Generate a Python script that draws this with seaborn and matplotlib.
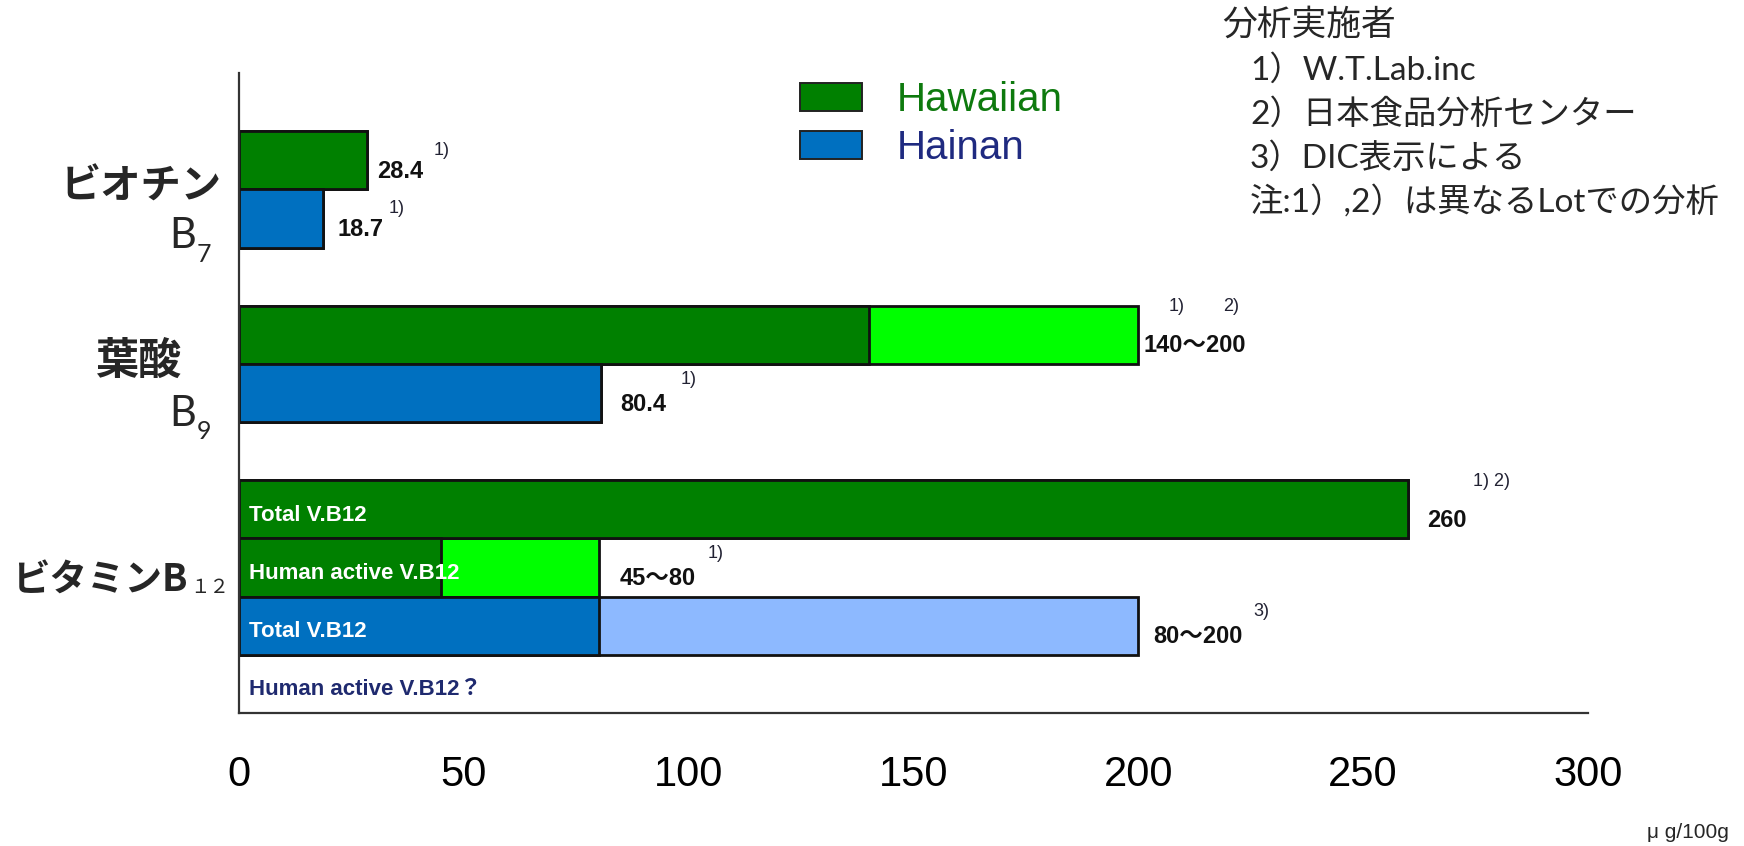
import numpy as np
import pandas as pd
import matplotlib
matplotlib.use("Agg")
import matplotlib.pyplot as plt
from matplotlib.patches import Rectangle
import seaborn as sns

# ---------------------------------------------------------------- data
row_keys = ["biotin_hawaiian", "biotin_hainan",
            "folate_hawaiian", "folate_hainan",
            "b12_total_hawaiian", "b12_active_hawaiian", "b12_total_hainan"]
origin = ["Hawaiian", "Hainan", "Hawaiian", "Hainan",
          "Hawaiian", "Hawaiian", "Hainan"]
low_values = [28.4, 18.7, 140, 80.4, 260, 45, 80]
high_values = [28.4, 18.7, 200, 80.4, 260, 80, 200]
value_labels = ["28.4", "18.7", "140～200", "80.4", "260", "45～80", "80～200"]
source_notes = [["1)"], ["1)"], ["1)", "2)"], ["1)"], ["1) 2)"], ["1)"], ["3)"]]

inner_rows = ["b12_total_hawaiian", "b12_active_hawaiian",
              "b12_total_hainan", "b12_active_hainan"]
inner_labels = ["Total V.B12", "Human active V.B12",
                "Total V.B12", "Human active V.B12？"]

vitamin_names = ["ビオチン", "葉酸", "ビタミン"]
vitamin_codes = ["7", "9", "１２"]
series = ["Hawaiian", "Hainan"]

x_ticks = [0, 50, 100, 150, 200, 250, 300]
unit_label = "μ g/100g"

analysts_title = "分析実施者"
analysts = ["1）W.T.Lab.inc", "2）日本食品分析センター",
            "3）DIC表示による", "注:1）,2）は異なるLotでの分析"]

# ------------------------------------------------------------- styling
dark = {"Hawaiian": "#008000", "Hainan": "#0070C0"}
light = {"Hawaiian": "#00FF00", "Hainan": "#8DB9FF"}
legend_text = {"Hawaiian": "#0E7A0E", "Hainan": "#1F2A80"}
EDGE = "#111111"

# row slots from top to bottom, with blank spacer rows between groups
slot_order = ["gap_a", row_keys[0], row_keys[1],
              "gap_b", row_keys[2], row_keys[3],
              "gap_c", row_keys[4], row_keys[5], row_keys[6],
              "b12_active_hainan"]

W, H = 1744, 846
sns.set_style("white")
plt.rcParams["font.family"] = ["Liberation Sans", "Noto Sans CJK JP"]

fig = plt.figure(figsize=(W / 100, H / 100), dpi=100)
fig.subplots_adjust(left=239 / W, right=1588 / W, top=1 - 73 / H, bottom=1 - 713 / H)
ax = fig.add_subplot(111)


def fx(px):
    return px / W


def fy(py):
    return 1 - py / H


df = pd.DataFrame({"row": row_keys, "origin": origin,
                   "low": low_values, "high": high_values})

# full range first (light shade), then the lower bound (dark shade) on top
sns.barplot(data=df, y="row", x="high", hue="row", order=slot_order,
            hue_order=row_keys,
            palette={r: light[o] for r, o in zip(row_keys, origin)},
            orient="h", width=1.0, edgecolor=EDGE, linewidth=2.0,
            saturation=1, errorbar=None, legend=False, ax=ax)
sns.barplot(data=df, y="row", x="low", hue="row", order=slot_order,
            hue_order=row_keys,
            palette={r: dark[o] for r, o in zip(row_keys, origin)},
            orient="h", width=1.0, edgecolor=EDGE, linewidth=2.0,
            saturation=1, errorbar=None, legend=False, ax=ax)

ax.set_ylim(len(slot_order) - 0.5, -0.5)
ax.set_xlim(0, 300)
ax.set_xlabel("")
ax.set_ylabel("")
ax.set_xticks(x_ticks)
ax.set_xticklabels([str(t) for t in x_ticks], family="Liberation Sans",
                   fontsize=30, color="black")
ax.tick_params(axis="x", direction="in", length=10.5, width=1.2,
               color="#222222", pad=30)
ax.tick_params(axis="y", left=False, labelleft=False)
for side in ("top", "right"):
    ax.spines[side].set_visible(False)
for side in ("left", "bottom"):
    ax.spines[side].set_linewidth(1.6)
    ax.spines[side].set_color("#333333")

# value labels and source notes at the end of each bar
label_dx = [10, 14, 5, 20, 19, 21, 15]
note_pos = [[(67, 10)], [(66, 10)], [(30, 28), (85, 28)], [(80, 14)],
            [(65, 28)], [(109, 14)], [(115, 14)]]
for row, hi, text, dx, notes, npos in zip(row_keys, high_values, value_labels,
                                          label_dx, source_notes, note_pos):
    y = slot_order.index(row)
    ax.annotate(text, xy=(hi, y), xytext=(dx, -11), textcoords="offset pixels",
                ha="left", va="center", fontsize=17, fontweight="bold",
                color="#111111")
    for note, (nx, ny) in zip(notes, npos):
        ax.annotate(note, xy=(hi, y), xytext=(nx, ny),
                    textcoords="offset pixels", ha="left", va="center",
                    fontsize=13, color="#222233")

# labels written inside the vitamin B12 bars
for row, text in zip(inner_rows, inner_labels):
    y = slot_order.index(row)
    col = "#1F2A6F" if row == "b12_active_hainan" else "white"
    ax.annotate(text, xy=(0, y), xytext=(10, -6), textcoords="offset pixels",
                ha="left", va="center", fontsize=16, fontweight="bold",
                color=col)

# vitamin names on the left
jp = ["Noto Sans CJK JP", "DejaVu Sans"]
fig.text(fx(222), fy(187), vitamin_names[0], ha="right", va="center",
         fontsize=29, family=jp, fontweight="bold")
fig.text(fx(196), fy(236), "B", ha="right", va="center", fontsize=30, family="Lato")
fig.text(fx(197), fy(254), vitamin_codes[0], ha="left", va="center",
         fontsize=18, family="Lato")
fig.text(fx(181), fy(361), vitamin_names[1], ha="right", va="center",
         fontsize=31, family=jp, fontweight="bold")
fig.text(fx(196), fy(414), "B", ha="right", va="center", fontsize=30, family="Lato")
fig.text(fx(197), fy(431), vitamin_codes[1], ha="left", va="center",
         fontsize=18, family="Lato")
fig.text(fx(188), fy(580), vitamin_names[2] + "B", ha="right", va="center",
         fontsize=27, family=jp, fontweight="bold")
fig.text(fx(190), fy(593), vitamin_codes[2], ha="left", va="baseline",
         fontsize=14, family=jp)

# legend
for i, name in enumerate(series):
    top = 83 + 48 * i
    fig.add_artist(Rectangle((fx(800), fy(top + 28)), 62 / W, 28 / H,
                             transform=fig.transFigure, facecolor=dark[name],
                             edgecolor="#222222", linewidth=1.4))
    fig.text(fx(897), fy(top + 17), name, ha="left", va="center",
             fontsize=29, color=legend_text[name])

# analysts note block
note_font = ["Lato", "Noto Sans CJK JP"]
fig.text(fx(1222), fy(24), analysts_title, ha="left", va="center",
         fontsize=25, family=note_font)
for i, line in enumerate(analysts):
    fig.text(fx(1250), fy(70 + 44 * i), line, ha="left", va="center",
             fontsize=24, family=note_font)

fig.text(fx(1729), fy(832), unit_label, ha="right", va="center",
         fontsize=15, family="Liberation Sans")

fig.savefig("out.png", dpi=100)
